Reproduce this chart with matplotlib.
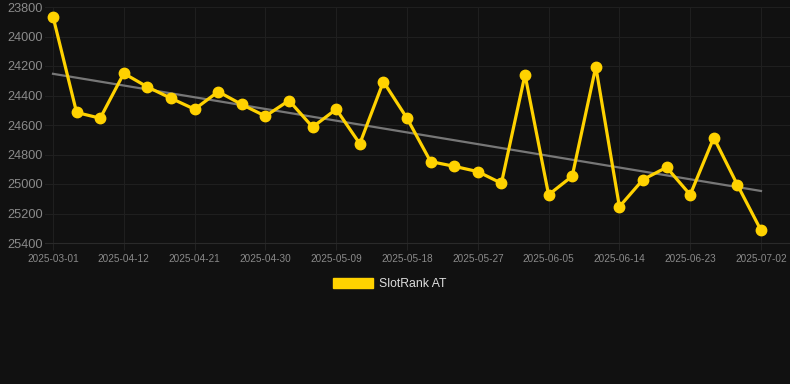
import matplotlib
matplotlib.use('Agg')
import matplotlib.pyplot as plt
import matplotlib.patches as mpatches
import numpy as np

plt.rcParams['font.family'] = ['Liberation Sans', 'DejaVu Sans']

# dates shown on the axis (every third point carries a label)
dates = ['2025-03-01', '2025-04-06', '2025-04-09', '2025-04-12', '2025-04-15',
         '2025-04-18', '2025-04-21', '2025-04-24', '2025-04-27', '2025-04-30',
         '2025-05-03', '2025-05-06', '2025-05-09', '2025-05-12', '2025-05-15',
         '2025-05-18', '2025-05-21', '2025-05-24', '2025-05-27', '2025-05-30',
         '2025-06-02', '2025-06-05', '2025-06-08', '2025-06-11', '2025-06-14',
         '2025-06-17', '2025-06-20', '2025-06-23', '2025-06-26', '2025-06-29',
         '2025-07-02']
rank = [23865, 24515, 24554, 24250, 24342, 24419, 24493, 24374, 24461, 24540,
        24434, 24614, 24493, 24727, 24306, 24554, 24848, 24880, 24916, 24995,
        24259, 25073, 24947, 24205, 25154, 24970, 24887, 25073, 24686, 25006,
        25314]
series_name = 'SlotRank AT'
y_ticks = [23800, 24000, 24200, 24400, 24600, 24800, 25000, 25200, 25400]

bg = '#111111'
gold = '#FFD200'

fig = plt.figure(figsize=(7.9, 3.84), dpi=100, facecolor=bg)
ax = fig.add_axes([45/790, 1-243/384, 745/790, 236/384], facecolor=bg)

x = np.arange(len(rank))
ax.plot(x, rank, color=gold, lw=2.3, marker='o', ms=7.5, zorder=3)

# linear trend
k, b = np.polyfit(x, rank, 1)
ax.plot(x, k*x + b, color='#777777', lw=1.6, zorder=2)

ax.set_ylim(25400, 23800)
ax.set_xlim(-8/23.6, 30 + 29/23.6)
ax.set_yticks(y_ticks)
ax.set_yticklabels([str(v) for v in y_ticks])
ax.set_xticks(x[::3])
ax.set_xticklabels(dates[::3])

ax.grid(True, color='#1f1f1f', lw=0.8)
for s in ['top', 'right', 'left']:
    ax.spines[s].set_visible(False)
ax.spines['bottom'].set_color('#2a2a2a')
ax.tick_params(axis='y', length=0, pad=1.5, labelsize=9.2, labelcolor='#8a8a8a')
ax.tick_params(axis='x', length=5, color='#222222', pad=3, labelsize=7.2, labelcolor='#8a8a8a')

handle = mpatches.Patch(color=gold, label=series_name)
fig.legend(handles=[handle], loc='center', bbox_to_anchor=(0.493, 1-284/384),
           frameon=False, fontsize=8.8, labelcolor='#dddddd',
           handlelength=3.3, handleheight=0.9, handletextpad=0.5)

fig.savefig('out.png', dpi=100, facecolor=bg)
